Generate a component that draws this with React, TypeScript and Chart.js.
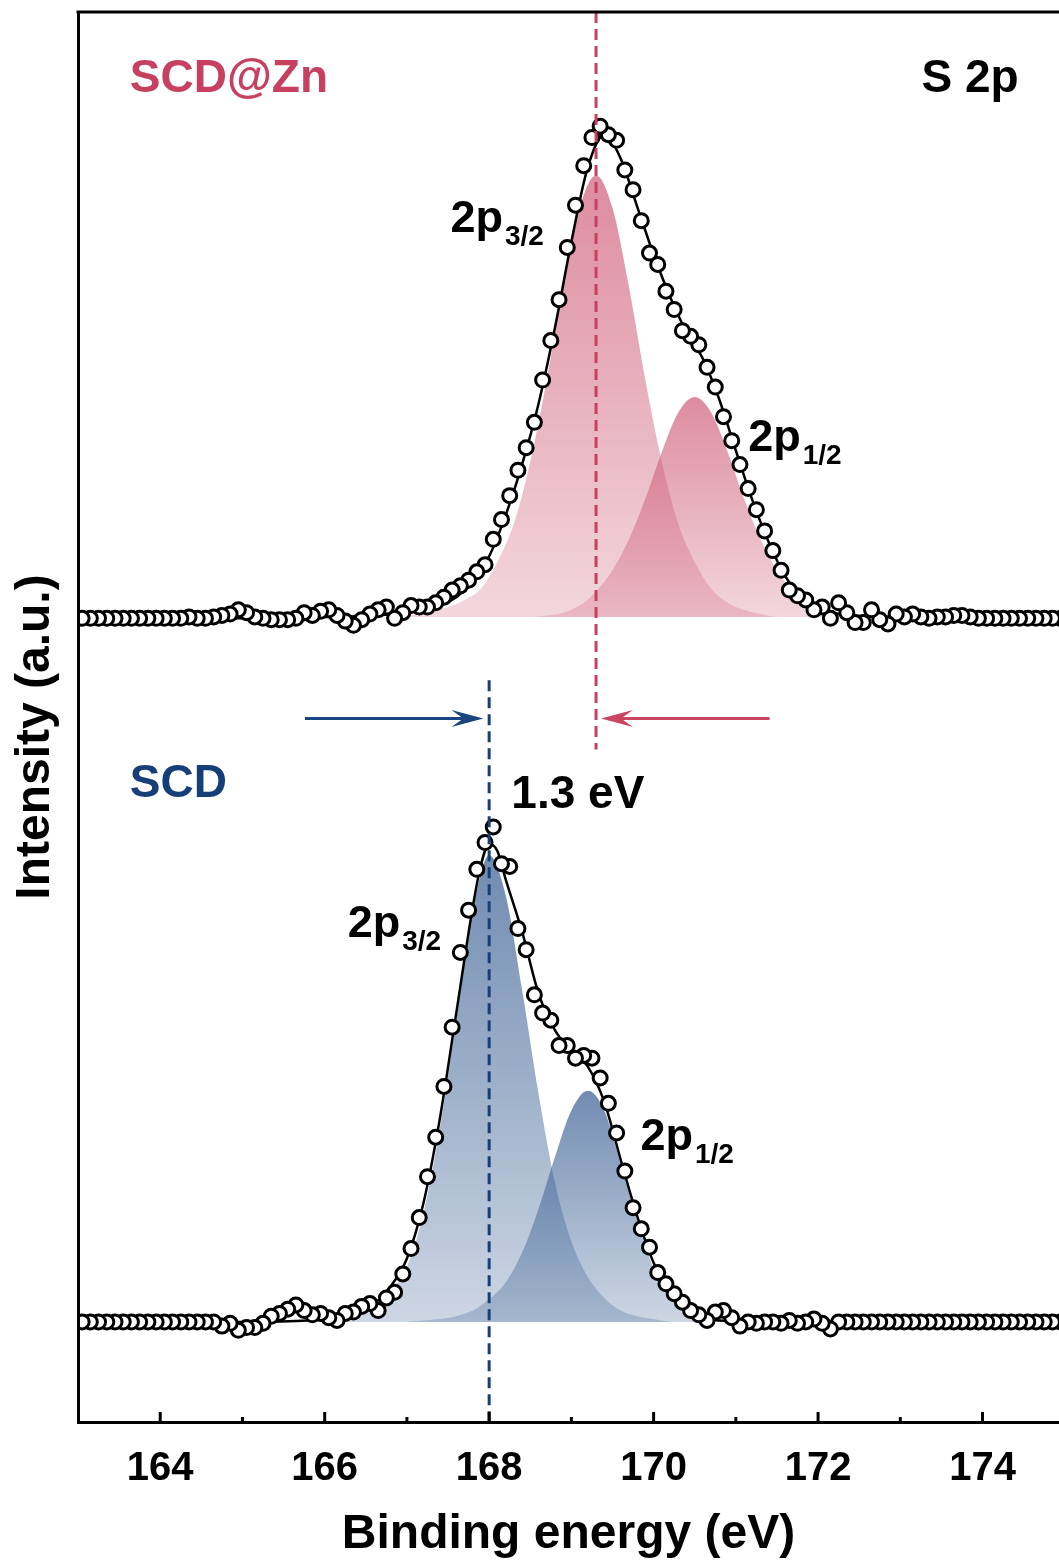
import React, { useEffect, useRef } from "react";
import { Chart, registerables } from "chart.js";

Chart.register(...registerables);

// ---------------- data ----------------
// binding-energy sampling of the measured spectra (eV)
const ENERGY_START = 163.05;
const ENERGY_STEP = 0.1;

// SCD@Zn measured intensity (a.u.), 163.05 ... 175.05 eV
const scdZnCounts = [
  57.0, 57.0, 57.0, 57.0, 57.0, 57.0, 57.0, 57.0, 57.0, 57.0,
  57.0, 57.0, 57.0, 57.1, 57.0, 57.0, 57.1, 57.2, 57.3, 57.6,
  57.4, 57.1, 57.0, 56.9, 56.9, 56.9, 57.0, 57.4, 57.2, 57.5,
  57.6, 57.2, 56.8, 56.5, 56.9, 57.3, 57.6, 57.8, 57.0, 57.4,
  57.9, 57.8, 57.8, 58.1, 58.5, 59.0, 59.3, 59.7, 60.3, 60.8,
  62.6, 64.0, 65.7, 67.5, 69.1, 70.9, 73.9, 76.7, 79.6, 83.3,
  86.3, 89.1, 91.1, 91.9, 91.3, 90.9, 88.8, 87.4, 85.2, 82.9,
  82.1, 80.2, 78.9, 77.4, 77.0, 76.4, 74.8, 73.4, 71.3, 69.6,
  67.9, 66.2, 64.7, 63.2, 61.8, 60.4, 59.0, 58.6, 58.3, 57.6,
  57.8, 57.0, 58.1, 57.4, 56.7, 56.7, 57.6, 56.9, 56.6, 57.3,
  57.1, 57.3, 57.1, 57.0, 57.1, 57.1, 57.2, 57.2, 57.1, 57.0,
  57.0, 57.0, 57.0, 57.0, 57.0, 57.0, 57.0, 57.0, 57.0, 57.0,
  57.0,
];

// SCD measured intensity (a.u.), 163.05 ... 175.05 eV
const scdCounts = [
  7.1, 7.1, 7.1, 7.1, 7.1, 7.1, 7.1, 7.1, 7.1, 7.1,
  7.1, 7.1, 7.1, 7.1, 7.1, 7.1, 7.1, 6.8, 7.0, 6.5,
  6.7, 6.7, 7.0, 7.5, 7.7, 8.0, 8.3, 7.9, 7.6, 7.7,
  7.4, 7.2, 7.7, 7.8, 8.2, 8.4, 7.9, 8.8, 9.2, 10.5,
  12.3, 14.5, 17.4, 20.2, 23.8, 28.0, 33.3, 36.3, 39.2, 41.1,
  42.2, 39.6, 39.4, 35.0, 33.5, 30.3, 29.0, 28.5, 26.7, 26.7,
  25.8, 26.0, 25.8, 24.4, 22.6, 20.5, 17.8, 15.2, 13.7, 12.4,
  10.6, 9.8, 9.1, 8.5, 7.9, 7.6, 7.2, 7.8, 7.9, 7.4,
  6.8, 7.1, 7.0, 7.1, 7.1, 7.0, 7.2, 7.0, 7.1, 7.3,
  7.0, 6.6, 7.1, 7.1, 7.1, 7.1, 7.1, 7.1, 7.1, 7.1,
  7.1, 7.1, 7.1, 7.1, 7.1, 7.1, 7.1, 7.1, 7.1, 7.1,
  7.1, 7.1, 7.1, 7.1, 7.1, 7.1, 7.1, 7.1, 7.1, 7.1,
  7.1,
];

// fitted envelopes
const scdZnFitE = [163, 165, 166, 166.6, 167.0, 167.4, 167.6, 167.8, 168.0, 168.2, 168.4, 168.6, 168.8, 169.0, 169.2, 169.4, 169.6, 169.8, 170.0, 170.2, 170.4, 170.6, 170.8, 171.0, 171.2, 171.4, 171.6, 171.8, 172.0, 172.4, 173.0, 175];
const scdZnFitV = [57.0, 57.0, 57.1, 57.2, 57.4, 57.9, 58.5, 59.6, 61.4, 64.3, 67.9, 72.2, 77.6, 83.7, 89.0, 91.3, 89.6, 86.2, 82.8, 79.8, 77.3, 75.4, 72.5, 68.9, 65.4, 62.4, 60.0, 58.5, 57.7, 57.2, 57.1, 57.0];
const scdFitE = [163, 165, 165.8, 166.2, 166.6, 166.8, 167.0, 167.2, 167.4, 167.6, 167.8, 167.9, 168.0, 168.1, 168.2, 168.4, 168.6, 168.8, 169.0, 169.2, 169.4, 169.6, 169.8, 170.0, 170.2, 170.4, 170.6, 170.8, 171.2, 172, 175];
const scdFitV = [7.1, 7.1, 7.2, 7.5, 8.4, 9.6, 11.6, 15.5, 21.5, 29.0, 36.5, 39.5, 41.0, 40.5, 38.5, 34.8, 30.4, 27.8, 26.3, 25.2, 22.7, 18.6, 14.6, 11.3, 9.3, 8.1, 7.4, 7.2, 7.1, 7.1, 7.1];

// fitted components
const scdZnP32E = [166.9, 167.1, 167.3, 167.5, 167.7, 167.9, 168.1, 168.3, 168.5, 168.7, 168.9, 169.1, 169.3, 169.5, 169.7, 169.9, 170.1, 170.3, 170.5, 170.7, 170.9, 171.1, 171.3, 171.5, 171.7];
const scdZnP32V = [57.1, 57.3, 57.5, 57.8, 58.3, 59.1, 61.0, 63.7, 68.1, 73.9, 80.5, 86.1, 88.4, 86.1, 80.5, 73.9, 68.1, 63.7, 61.0, 59.1, 58.1, 57.6, 57.3, 57.1, 57.1];
const scdZnP12E = [168.1, 168.3, 168.5, 168.7, 168.9, 169.1, 169.3, 169.5, 169.7, 169.9, 170.1, 170.3, 170.5, 170.7, 170.9, 171.1, 171.3, 171.5, 171.7, 171.9, 172.1, 172.3, 172.5, 172.7, 172.9];
const scdZnP12V = [57.1, 57.1, 57.1, 57.2, 57.4, 57.9, 58.9, 60.4, 62.6, 65.5, 68.8, 71.6, 72.7, 71.6, 68.8, 65.5, 62.6, 60.4, 58.9, 57.9, 57.4, 57.2, 57.1, 57.1, 57.1];
const scdP32E = [165.8, 166.0, 166.2, 166.4, 166.6, 166.8, 167.0, 167.2, 167.4, 167.6, 167.8, 168.0, 168.2, 168.4, 168.6, 168.8, 169.0, 169.2, 169.4, 169.6, 169.8, 170.0, 170.2];
const scdP32V = [7.1, 7.3, 7.5, 7.8, 8.2, 9.3, 11.0, 14.8, 20.8, 28.5, 36.2, 40.2, 37.4, 30.7, 23.3, 17.0, 12.8, 10.3, 8.8, 7.9, 7.5, 7.3, 7.1];
const scdP12E = [167.0, 167.2, 167.4, 167.6, 167.8, 168.0, 168.2, 168.4, 168.6, 168.8, 169.0, 169.2, 169.4, 169.6, 169.8, 170.0, 170.2, 170.4, 170.6, 170.8, 171.0, 171.2, 171.4];
const scdP12V = [7.1, 7.2, 7.3, 7.5, 7.9, 8.7, 9.9, 12.0, 15.1, 18.8, 22.1, 23.5, 22.1, 18.3, 14.3, 10.9, 9.0, 8.0, 7.5, 7.3, 7.2, 7.1, 7.1];

const scdZnBase = 57.1;
const scdBase = 7.1;

// peak-position markers and shift arrows
const scdZnPeakE = 169.3;
const scdPeakE = 168.0;
const scdZnMarkerY = [100, 47.7];
const scdMarkerY = [52.6, 0];
const shiftArrowY = 49.9;
const scdArrowE = [165.76, 167.93];
const scdZnArrowE = [171.41, 169.36];

// axis
const xMin = 163;
const xMax = 174.93;
const yMin = 0;
const yMax = 100;
const xTickStep = 1;

// ---------------- styling ----------------
const FONT = '"Liberation Sans", Arial, Helvetica, sans-serif';
const RED = "#C8405F";
const NAVY = "#163E77";
const PINK_RGB = "205,85,115";
const BLUE_RGB = "45,85,140";

const textLabels = [
  { text: "SCD@Zn", e: 163.63, v: 94.33, color: RED, align: "left" },
  { text: "S 2p", e: 174.44, v: 94.33, color: "#000", align: "right" },
  { text: "SCD", e: 163.63, v: 44.3, color: NAVY, align: "left" },
  { text: "1.3 eV", e: 168.27, v: 43.55, color: "#000", align: "left" },
];
const peakLabels = [
  { main: "2p", sub: "3/2", e: 167.53, v: 84.4 },
  { main: "2p", sub: "1/2", e: 171.15, v: 68.9 },
  { main: "2p", sub: "3/2", e: 166.28, v: 34.4 },
  { main: "2p", sub: "1/2", e: 169.84, v: 19.3 },
];

const energies = scdZnCounts.map((_, i) => +(ENERGY_START + i * ENERGY_STEP).toFixed(2));

function pts(xs: number[], ys: number[]) {
  return xs.map((x, i) => ({ x, y: ys[i] }));
}

function gradientFill(rgb: string, peak: number, base: number) {
  return (c: any) => {
    const chart = c.chart;
    const area = chart.chartArea;
    if (!area) return `rgba(${rgb},0.4)`;
    const y = chart.scales.y;
    const g = chart.ctx.createLinearGradient(0, y.getPixelForValue(peak), 0, y.getPixelForValue(base));
    g.addColorStop(0, `rgba(${rgb},0.68)`);
    g.addColorStop(1, `rgba(${rgb},0.24)`);
    return g;
  };
}

function band(xs: number[], ys: number[], base: number, rgb: string) {
  return {
    data: pts(xs, ys),
    borderWidth: 0,
    pointRadius: 0,
    fill: { value: base },
    cubicInterpolationMode: "monotone",
    backgroundColor: gradientFill(rgb, Math.max(...ys), base),
    order: 4,
  };
}

function drawArrow(ctx: CanvasRenderingContext2D, x0: number, x1: number, yy: number, color: string) {
  const dir = Math.sign(x1 - x0);
  ctx.strokeStyle = color;
  ctx.fillStyle = color;
  ctx.lineWidth = 3;
  ctx.beginPath();
  ctx.moveTo(x0, yy);
  ctx.lineTo(x1 - dir * 18, yy);
  ctx.stroke();
  ctx.beginPath();
  ctx.moveTo(x1, yy);
  ctx.lineTo(x1 - dir * 32, yy - 8.5);
  ctx.lineTo(x1 - dir * 20, yy);
  ctx.lineTo(x1 - dir * 32, yy + 8.5);
  ctx.closePath();
  ctx.fill();
}

const decorPlugin = {
  id: "decor",
  afterDraw(chart: any) {
    const { ctx, chartArea: ca, scales } = chart;
    const x = scales.x;
    const y = scales.y;
    ctx.save();
    // top frame line
    ctx.strokeStyle = "#000";
    ctx.lineWidth = 3;
    ctx.beginPath();
    ctx.moveTo(ca.left - 1.5, ca.top);
    ctx.lineTo(ca.right, ca.top);
    ctx.stroke();
    // inward tick marks
    for (const t of x.ticks) {
      const v = t.value;
      if (Math.abs(v - Math.round(v)) > 1e-6) continue;
      const px = x.getPixelForValue(v);
      if (px <= ca.left + 3 || px >= ca.right) continue;
      const len = Math.round(v) % 2 === 0 ? 10 : 5;
      ctx.beginPath();
      ctx.moveTo(px, ca.bottom);
      ctx.lineTo(px, ca.bottom - len);
      ctx.stroke();
    }
    // shift arrows
    const ay = y.getPixelForValue(shiftArrowY);
    drawArrow(ctx, x.getPixelForValue(scdArrowE[0]), x.getPixelForValue(scdArrowE[1]), ay, "#1A4580");
    drawArrow(ctx, x.getPixelForValue(scdZnArrowE[0]), x.getPixelForValue(scdZnArrowE[1]), ay, "#C94562");
    // text labels
    ctx.textBaseline = "alphabetic";
    for (const l of textLabels) {
      ctx.font = `bold 46px ${FONT}`;
      ctx.fillStyle = l.color;
      ctx.textAlign = l.align as CanvasTextAlign;
      ctx.fillText(l.text, x.getPixelForValue(l.e), y.getPixelForValue(l.v));
    }
    ctx.textAlign = "left";
    ctx.fillStyle = "#000";
    for (const l of peakLabels) {
      const px = x.getPixelForValue(l.e);
      const py = y.getPixelForValue(l.v);
      ctx.font = `bold 45px ${FONT}`;
      ctx.fillText(l.main, px, py);
      const w = ctx.measureText(l.main).width;
      ctx.font = `bold 28px ${FONT}`;
      ctx.fillText(l.sub, px + w + 2, py + 13);
    }
    // y axis title
    ctx.save();
    ctx.translate(49, (ca.top + ca.bottom) / 2 + 20);
    ctx.rotate(-Math.PI / 2);
    ctx.font = `bold 48px ${FONT}`;
    ctx.textAlign = "center";
    ctx.fillStyle = "#000";
    ctx.fillText("Intensity (a.u.)", 0, 0);
    ctx.restore();
    ctx.restore();
  },
};

export default function App() {
  const ref = useRef<HTMLCanvasElement | null>(null);

  useEffect(() => {
    document.body.style.margin = "0";
    document.body.style.overflow = "hidden";
    const canvas = ref.current;
    if (!canvas) return;

    const markerStyle = {
      showLine: false,
      pointRadius: 7,
      pointBorderWidth: 3,
      pointBackgroundColor: "#fff",
      pointBorderColor: "#000",
      clip: 0,
      order: 1,
    };

    const chart = new Chart(canvas, {
      type: "line",
      data: {
        datasets: [
          { ...band(scdZnP32E, scdZnP32V, scdZnBase, PINK_RGB), label: "SCD@Zn 2p3/2" },
          { ...band(scdZnP12E, scdZnP12V, scdZnBase, PINK_RGB), label: "SCD@Zn 2p1/2" },
          { ...band(scdP32E, scdP32V, scdBase, BLUE_RGB), label: "SCD 2p3/2" },
          { ...band(scdP12E, scdP12V, scdBase, BLUE_RGB), label: "SCD 2p1/2" },
          {
            label: "SCD@Zn fit",
            data: pts(scdZnFitE, scdZnFitV),
            borderColor: "#000",
            borderWidth: 2.5,
            pointRadius: 0,
            fill: false,
            cubicInterpolationMode: "monotone",
            order: 2,
          },
          {
            label: "SCD fit",
            data: pts(scdFitE, scdFitV),
            borderColor: "#000",
            borderWidth: 2.5,
            pointRadius: 0,
            fill: false,
            cubicInterpolationMode: "monotone",
            order: 2,
          },
          { label: "SCD@Zn", data: pts(energies, scdZnCounts).reverse(), ...markerStyle },
          { label: "SCD", data: pts(energies, scdCounts).reverse(), ...markerStyle },
          {
            label: "SCD@Zn peak",
            data: scdZnMarkerY.map((v) => ({ x: scdZnPeakE, y: v })),
            borderColor: RED,
            borderWidth: 3,
            borderDash: [11, 6],
            pointRadius: 0,
            fill: false,
            order: 0,
          },
          {
            label: "SCD peak",
            data: scdMarkerY.map((v) => ({ x: scdPeakE, y: v })),
            borderColor: NAVY,
            borderWidth: 3,
            borderDash: [11, 6],
            pointRadius: 0,
            fill: false,
            order: 0,
          },
        ] as any,
      },
      options: {
        responsive: false,
        animation: false,
        devicePixelRatio: 1,
        layout: { autoPadding: false, padding: { top: 12, right: 0, left: 0, bottom: 0 } },
        plugins: { legend: { display: false }, tooltip: { enabled: false } },
        scales: {
          x: {
            type: "linear",
            position: "bottom",
            min: xMin,
            max: xMax,
            grid: { display: false },
            border: { display: true, width: 3, color: "#000", z: 1 },
            ticks: {
              stepSize: xTickStep,
              includeBounds: false,
              autoSkip: false,
              maxRotation: 0,
              padding: 15,
              color: "#000",
              font: { family: FONT, size: 40, weight: "bold" },
              callback: (v: any) => {
                const n = Number(v);
                return Math.abs(n - Math.round(n)) < 1e-6 && Math.round(n) % 2 === 0 ? String(Math.round(n)) : "";
              },
            },
            title: {
              display: true,
              text: "Binding energy (eV)",
              color: "#000",
              font: { family: FONT, size: 48, weight: "bold" },
              padding: { top: 0, bottom: 0 },
            },
            afterFit: (s: any) => {
              s.height = 142;
            },
          },
          y: {
            type: "linear",
            min: yMin,
            max: yMax,
            grid: { display: false },
            border: { display: true, width: 3, color: "#000", z: 1 },
            ticks: { display: false },
            afterFit: (s: any) => {
              s.width = 78;
            },
          },
        },
      } as any,
      plugins: [decorPlugin],
    });

    return () => chart.destroy();
  }, []);

  return <canvas ref={ref} width={1059} height={1564} style={{ display: "block" }} />;
}
